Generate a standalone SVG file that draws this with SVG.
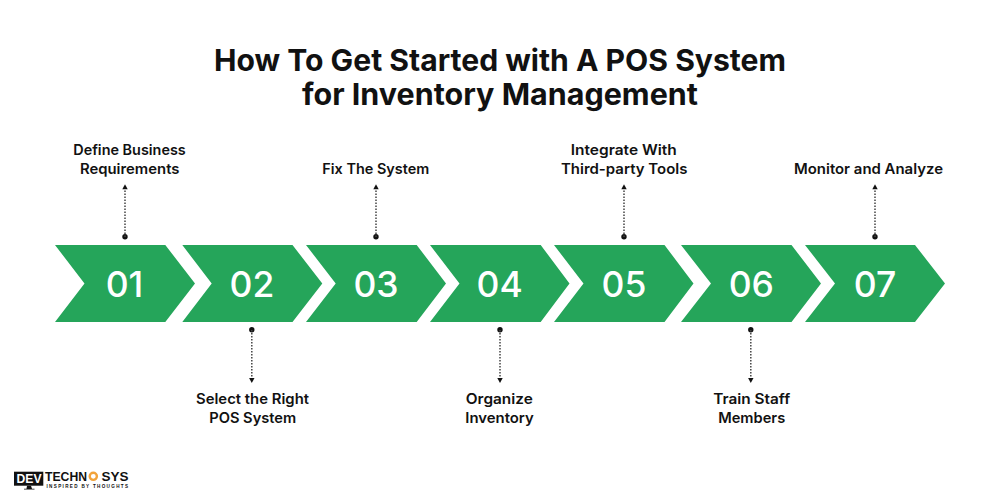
<svg xmlns="http://www.w3.org/2000/svg" width="1000" height="500" viewBox="0 0 1000 500">
<style>
text{font-family:"Inter","Liberation Sans",sans-serif;fill:#111}
.t{font-size:30px;font-weight:700;text-anchor:middle}
.l{font-size:14.5px;font-weight:600;text-anchor:middle}
.n{font-size:35.500px;font-weight:550;text-anchor:middle;fill:#fff}
.c{fill:#25a55a}
.d{stroke:#444;stroke-width:1.5;stroke-dasharray:1.6 1.4;fill:none}
.k{fill:#111}
.g{font-family:"Liberation Sans",sans-serif;font-weight:700}
</style>
<rect width="1000" height="500" fill="#fff"/>
<text class="t" x="500" y="71" textLength="572" lengthAdjust="spacingAndGlyphs">How To Get Started with A POS System</text>
<text class="t" x="500" y="105.300" textLength="396" lengthAdjust="spacingAndGlyphs">for Inventory Management</text>
<g id="node-01"><polygon class="c" points="55,245 165.300,245 195,283.500 165.300,322 55,322 84.500,283.500"/><text class="n" x="124.500" y="297">01</text><text class="l" x="129.500" y="155" textLength="112.500" lengthAdjust="spacingAndGlyphs">Define Business</text><text class="l" x="129.700" y="174" textLength="99.500" lengthAdjust="spacingAndGlyphs">Requirements</text></g>
<g id="node-02"><polygon class="c" points="182.300,245 292.500,245 322.300,283.500 292.500,322 182.300,322 211.700,283.500"/><text class="n" x="252" y="297">02</text><text class="l" x="252.500" y="404" textLength="113" lengthAdjust="spacingAndGlyphs">Select the Right</text><text class="l" x="252.700" y="423" textLength="87" lengthAdjust="spacingAndGlyphs">POS System</text></g>
<g id="node-03"><polygon class="c" points="306,245 416.700,245 446,283.500 416.700,322 306,322 335.700,283.500"/><text class="n" x="376" y="297">03</text><text class="l" x="375.800" y="174" textLength="107" lengthAdjust="spacingAndGlyphs">Fix The System</text></g>
<g id="node-04"><polygon class="c" points="430,245 540.700,245 569.500,283.500 540.700,322 430,322 459.500,283.500"/><text class="n" x="499.700" y="297">04</text><text class="l" x="499.300" y="404" textLength="67" lengthAdjust="spacingAndGlyphs">Organize</text><text class="l" x="499.500" y="423" textLength="68.500" lengthAdjust="spacingAndGlyphs">Inventory</text></g>
<g id="node-05"><polygon class="c" points="554,245 664.500,245 693.500,283.500 664.500,322 554,322 583.500,283.500"/><text class="n" x="624" y="297">05</text><text class="l" x="623.800" y="155" textLength="106" lengthAdjust="spacingAndGlyphs">Integrate With</text><text class="l" x="624.200" y="174" textLength="126.500" lengthAdjust="spacingAndGlyphs">Third-party Tools</text></g>
<g id="node-06"><polygon class="c" points="681,245 791.500,245 821,283.500 791.500,322 681,322 711,283.500"/><text class="n" x="751.300" y="297">06</text><text class="l" x="751.700" y="404" textLength="77" lengthAdjust="spacingAndGlyphs">Train Staff</text><text class="l" x="751.700" y="423" textLength="67" lengthAdjust="spacingAndGlyphs">Members</text></g>
<g id="node-07"><polygon class="c" points="805,245 915,245 945,283.500 915,322 805,322 835,283.500"/><text class="n" x="875" y="297">07</text><text class="l" x="868.500" y="174" textLength="149" lengthAdjust="spacingAndGlyphs">Monitor and Analyze</text></g>
<g id="connectors">
<g class="k"><circle cx="125" cy="236.800" r="2.700"/><circle cx="251.800" cy="329.800" r="2.700"/><circle cx="376" cy="236.800" r="2.700"/><circle cx="500" cy="329.800" r="2.700"/><circle cx="624" cy="236.800" r="2.700"/><circle cx="750.800" cy="329.800" r="2.700"/><circle cx="875" cy="236.800" r="2.700"/>
<polygon points="125,184.300 122.300,189.300 127.700,189.300"/><polygon points="376,184.300 373.300,189.300 378.700,189.300"/><polygon points="624,184.300 621.300,189.300 626.700,189.300"/><polygon points="875,184.300 872.300,189.300 877.700,189.300"/>
<polygon points="251.800,383 249.100,378 254.500,378"/><polygon points="500,383 497.300,378 502.700,378"/><polygon points="750.800,383 748.100,378 753.500,378"/></g>
<path class="d" d="M125 237V189M376 237V189M624 237V189M875 237V189M251.800 330V378M500 330V378M750.800 330V378"/>
</g>
<g id="logo">
<rect x="14" y="471.700" width="29.300" height="14" fill="#111"/>
<path d="M27 485.700h4l1 3h2.500v.8h-10.500v-.8h2.500z" fill="#111"/>
<text class="g" x="16.500" y="483.300" font-size="12.500" style="fill:#fff" textLength="25" lengthAdjust="spacingAndGlyphs">DEV</text>
<text class="g" x="45" y="481" font-size="13" textLength="42" lengthAdjust="spacingAndGlyphs">TECHN</text>
<circle cx="93.300" cy="476.300" r="3.600" fill="none" stroke="#f2a33a" stroke-width="2.400"/>
<text class="g" x="101.500" y="481" font-size="13" textLength="27" lengthAdjust="spacingAndGlyphs">SYS</text>
<text class="g" x="46.500" y="488" font-size="4.600" textLength="81.500" lengthAdjust="spacing">INSPIRED BY THOUGHTS</text>
</g>
</svg>
